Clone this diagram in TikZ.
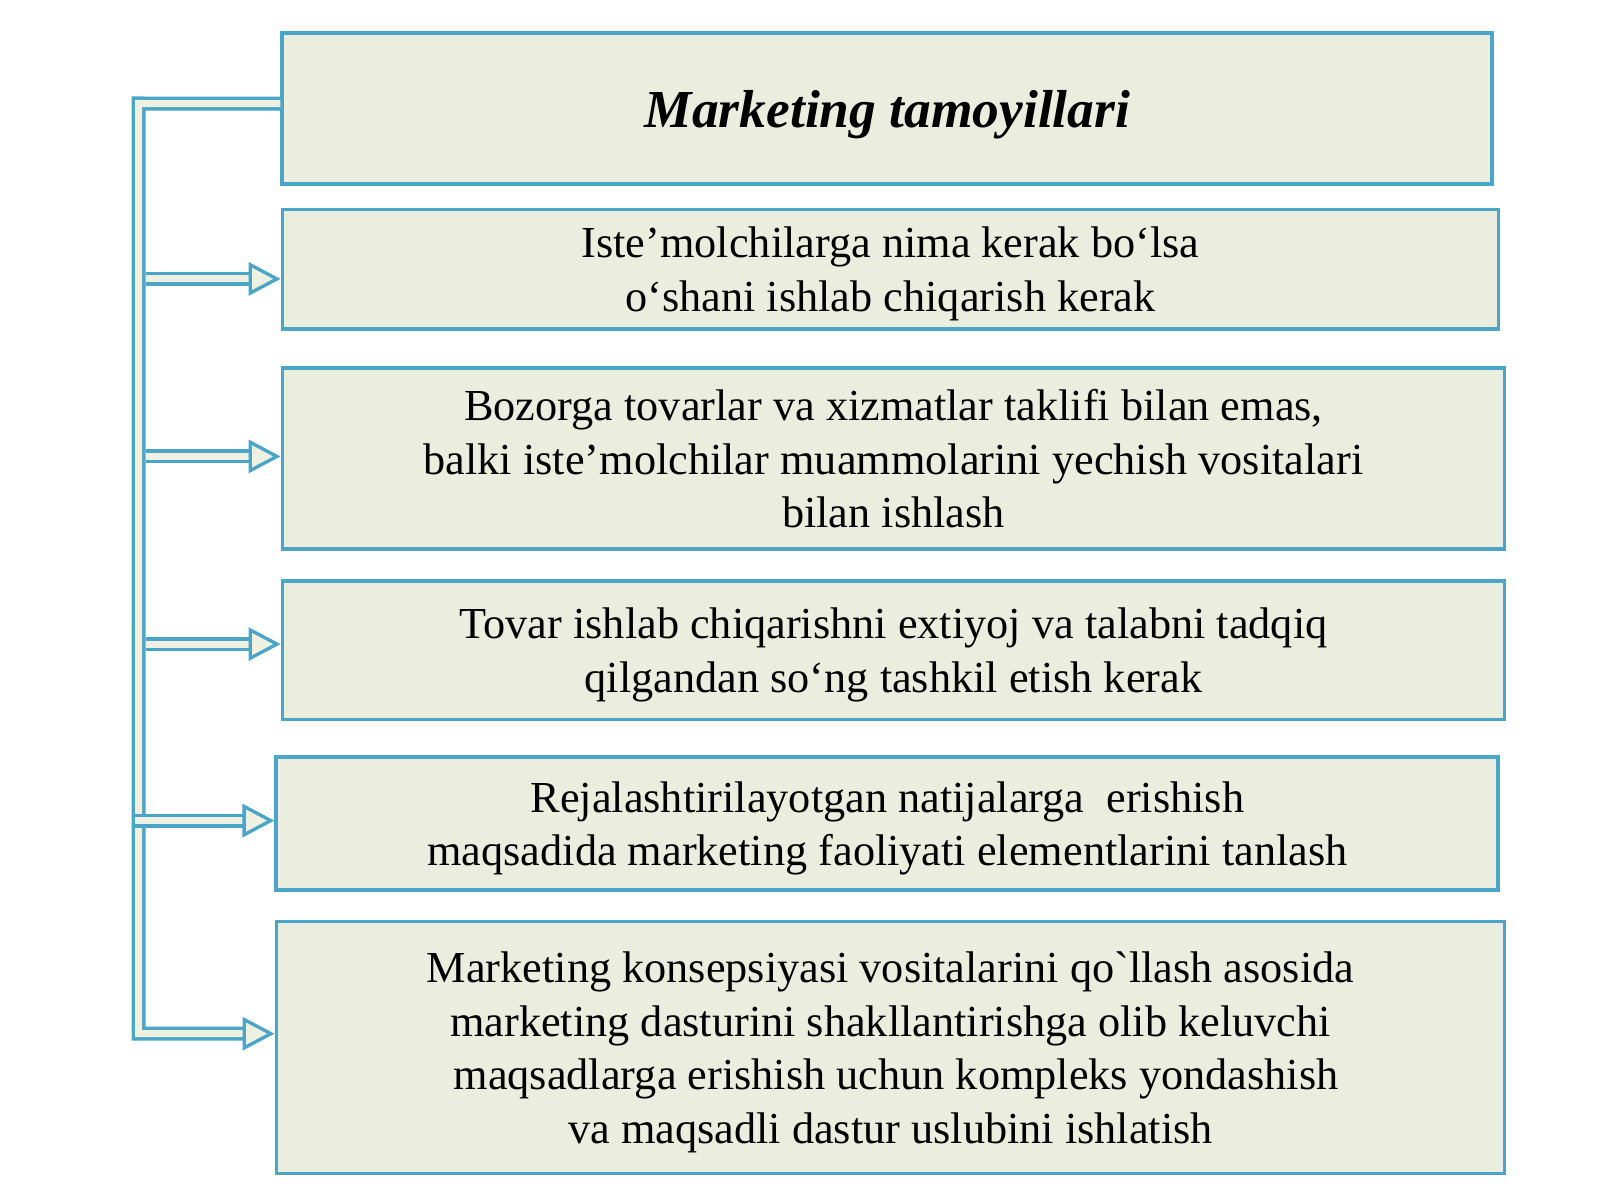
\documentclass[tikz,border=0pt]{standalone}
\usepackage{fontspec}
\setmainfont{Liberation Serif}[Ligatures=TeXOff]
\usetikzlibrary{arrows.meta}
\definecolor{edgeblue}{HTML}{4BA5C6}
\definecolor{boxfill}{HTML}{EBEEDF}
\definecolor{pipefill}{HTML}{EEF0E2}
\tikzset{
  box/.style={draw=edgeblue, fill=boxfill, line width=1.1pt, inner sep=0pt, align=center,
    text depth=-0.06cm, font=\fontsize{12.6}{15.2}\selectfont},
  pipe/.style={draw=edgeblue, line width=0.035cm, double=pipefill, double distance=0.07cm},
  >={Triangle[open, fill=pipefill, length=0.32cm, width=0.33cm, line width'=0.95pt]}
}
\begin{document}
\begin{tikzpicture}
  \useasboundingbox (0,0) rectangle (16,12);
  \node[box, minimum width=12.10cm, minimum height=1.51cm, font=\fontsize{15.2}{18}\selectfont\bfseries\itshape] (title) at (8.874,10.914) {Marketing tamoyillari};
  \node[box, minimum width=12.16cm, minimum height=1.193cm] (p1) at (8.905,9.308) {Iste’molchilarga nima kerak bo‘lsa\\o‘shani ishlab chiqarish kerak};
  \node[box, minimum width=12.22cm, minimum height=1.816cm] (p2) at (8.935,7.415) {Bozorga tovarlar va xizmatlar taklifi bilan emas,\\balki iste’molchilar muammolarini yechish vositalari\\bilan ishlash};
  \node[box, minimum width=12.22cm, minimum height=1.387cm] (p3) at (8.935,5.498) {Tovar ishlab chiqarishni extiyoj va talabni tadqiq\\qilgandan so‘ng tashkil etish kerak};
  \node[box, minimum width=12.22cm, minimum height=1.326cm] (p4) at (8.874,3.764) {Rejalashtirilayotgan natijalarga\ \ erishish\\maqsadida marketing faoliyati elementlarini tanlash};
  \node[box, minimum width=12.28cm, minimum height=2.519cm] (p5) at (8.905,1.525) {Marketing konsepsiyasi vositalarini qo`llash asosida\\marketing dasturini shakllantirishga olib keluvchi\\\ maqsadlarga erishish uchun kompleks yondashish\\va maqsadli dastur uslubini ishlatish};

  \coordinate (bustop) at (1.387,10.965);
  \coordinate (busbot) at (1.387,1.663);

  \draw[pipe, ->] ([yshift=0.05cm]title.west) -- (bustop) -- (busbot) -- (busbot -| p5.west);
  \foreach \b/\dy/\sx in {p1/-0.097/1.455, p2/0.021/1.455, p3/0.061/1.455, p4/0.03/1.35}{
    \coordinate (e\b) at ([yshift=\dy cm]\b.west);
    \draw[pipe, ->] (\sx,0 |- e\b) -- (e\b);
  }
\end{tikzpicture}
\end{document}
